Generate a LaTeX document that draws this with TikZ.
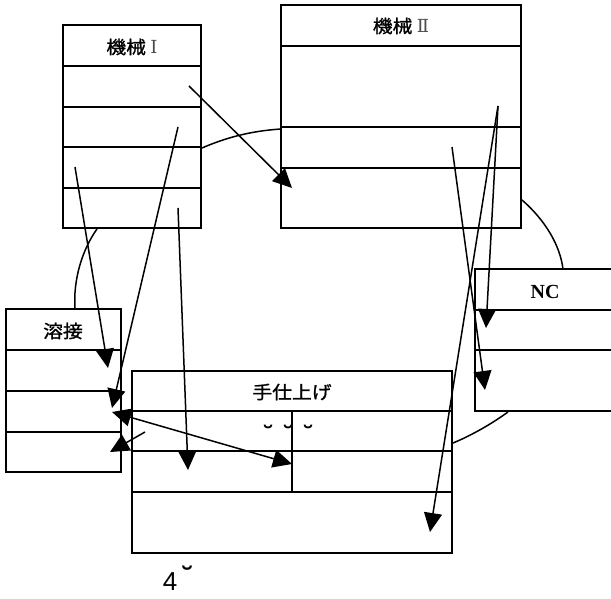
\documentclass[tikz,border=0pt]{standalone}
\usepackage{fontspec}
\setmainfont{Liberation Serif}
\newfontfamily\jp[FakeStretch=1.1,FakeBold=1.2]{Noto Sans CJK JP}
\newfontfamily\dv{DejaVu Sans}
\newfontfamily\dvs{DejaVu Serif}
\newfontfamily\ls{Liberation Sans}
\usetikzlibrary{arrows.meta}
\begin{document}
\begin{tikzpicture}[x=1pt,y=-1pt,
  box/.style={line width=1.6pt},
  conn/.style={line width=1.5pt,-{Triangle[length=19pt,width=18pt]}},
  dconn/.style={line width=1.5pt,{Triangle[length=19pt,width=18pt]}-{Triangle[length=19pt,width=18pt]}},
  arcline/.style={line width=1.5pt},
  jlabel/.style={font=\jp\fontsize{18}{18}\selectfont,inner sep=0pt},
  brevemark/.style={font=\dv\bfseries\fontsize{26}{26}\selectfont,inner sep=0pt,anchor=north}]
\useasboundingbox[fill=white] (0,0) rectangle (611,599);
% Machine I
\draw[box] (63,25) rectangle (201,228);
\foreach \y in {66,107,147,188} \draw[box] (63,\y) -- (201,\y);
\node[jlabel] (m1) at (132,47) {機械 {\dvs\color{black!70}Ⅰ}};
% Machine II
\draw[box] (281,5) rectangle (521,228);
\foreach \y in {46,127,168} \draw[box] (281,\y) -- (521,\y);
\node[jlabel] (m2) at (401,26) {機械 {\dvs\color{black!70}Ⅱ}};
% Welding
\draw[box] (6,309) rectangle (121,472);
\foreach \y in {350,391,432} \draw[box] (6,\y) -- (121,\y);
\node[jlabel] (w) at (63,331) {溶接};
% Finishing
\draw[box] (132,371) rectangle (452,553);
\foreach \y in {411,451,492} \draw[box] (132,\y) -- (452,\y);
\draw[box] (292,411) -- (292,492);
\node[jlabel] (f) at (292,392) {手仕上げ};
\node[brevemark] (b1) at (268,425) {˘};
\node[brevemark] (b2) at (288,425) {˘};
\node[brevemark] (b3) at (308,425) {˘};
% NC
\draw[box] (620,269) -- (475,269) -- (475,411) -- (620,411);
\foreach \y in {310,350} \draw[box] (475,\y) -- (620,\y);
\node[font=\bfseries\fontsize{20}{20}\selectfont,inner sep=0pt] (nc) at (545,292) {NC};
% page number
\node[font=\ls\fontsize{26}{26}\selectfont,inner sep=0pt] (p) at (170,582) {4};
\node[font=\dv\bfseries\fontsize{30}{30}\selectfont,inner sep=0pt,anchor=north] (pb) at (187,566) {˘};
% coordinates
\coordinate (s1) at (189,86);   \coordinate (t1) at (292,188);
\coordinate (s2) at (75,167);   \coordinate (t2) at (108,368);
\coordinate (s3) at (178,127);  \coordinate (t3) at (112,408);
\coordinate (s4) at (178,208);  \coordinate (t4) at (188,470);
\coordinate (s5) at (112,412);  \coordinate (t5) at (292,464);
\coordinate (s6) at (145,432);  \coordinate (t6) at (110,452);
\coordinate (s7) at (498,106);  \coordinate (t7) at (486,328);
\coordinate (t8) at (430,532);
\coordinate (s9) at (452,147);  \coordinate (t9) at (485,390);
\coordinate (c1a) at (202,148); \coordinate (c1b) at (281,129);
\coordinate (c2a) at (97,229);  \coordinate (c2b) at (75,309);
\coordinate (c3a) at (522,200); \coordinate (c3b) at (563,269);
\coordinate (c4a) at (508,412); \coordinate (c4b) at (453,443);
% arcs
\draw[arcline] (c1a) .. controls (225,138) and (250,131) .. (c1b);
\draw[arcline] (c2a) .. controls (82,250) and (73,280) .. (c2b);
\draw[arcline] (c3a) .. controls (545,220) and (560,245) .. (c3b);
\draw[arcline] (c4a) .. controls (490,425) and (470,436) .. (c4b);
% arrows
\draw[conn] (s1) -- (t1);
\draw[conn] (s2) -- (t2);
\draw[conn] (s3) -- (t3);
\draw[conn] (s4) -- (t4);
\draw[dconn] (s5) -- (t5);
\draw[conn] (s6) -- (t6);
\draw[conn] (s7) -- (t7);
\draw[conn] (s7) -- (t8);
\draw[conn] (s9) -- (t9);
\end{tikzpicture}
\end{document}
